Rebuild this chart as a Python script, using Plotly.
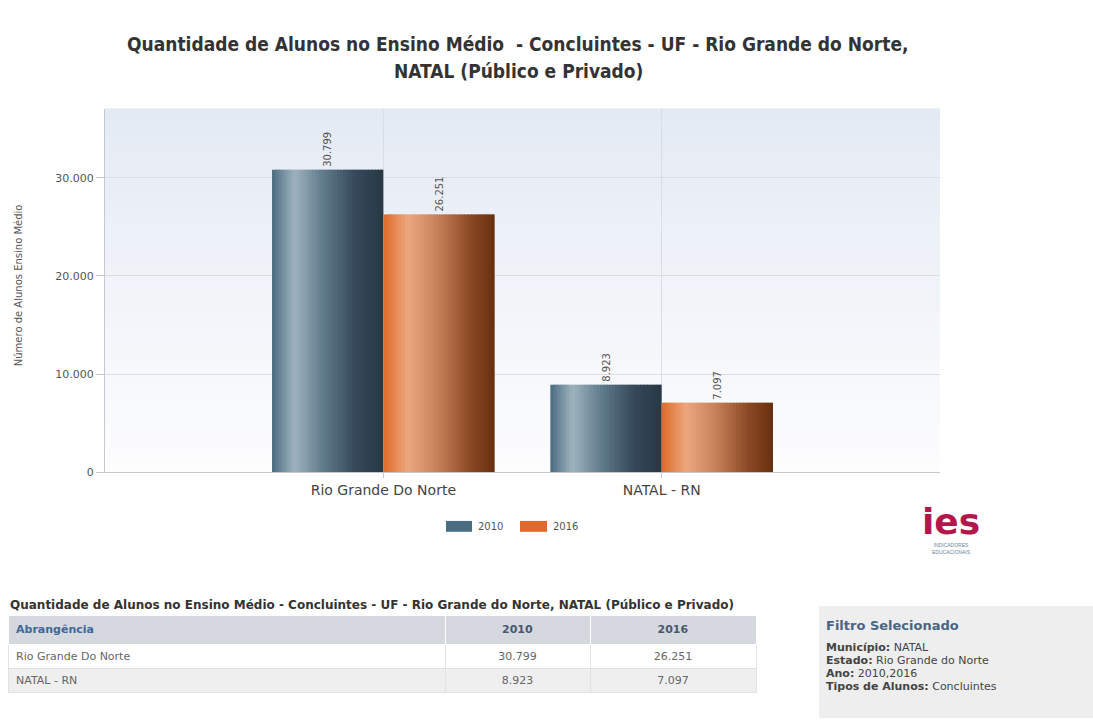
import plotly.graph_objects as go

# ---- data -------------------------------------------------------------
categories = ["Rio Grande Do Norte", "NATAL - RN"]
years = ["2010", "2016"]
values_2010 = [30799, 8923]
values_2016 = [26251, 7097]
series_values = [values_2010, values_2016]

y_ticks = [0, 10000, 20000, 30000]

title_line1 = "Quantidade de Alunos no Ensino Médio  - Concluintes - UF - Rio Grande do Norte,"
title_line2 = "NATAL (Público e Privado)"
y_title = "Número de Alunos Ensino Médio"
table_title = ("Quantidade de Alunos no Ensino Médio - Concluintes - UF - "
               "Rio Grande do Norte, NATAL (Público e Privado)")
table_header = ["Abrangência", "2010", "2016"]
filter_title = "Filtro Selecionado"
filter_items = [("Município:", "NATAL"),
                ("Estado:", "Rio Grande do Norte"),
                ("Ano:", "2010,2016"),
                ("Tipos de Alunos:", "Concluintes")]

# ---- style ------------------------------------------------------------
W_PX, H_PX = 1093, 725
FONT = "DejaVu Sans"
swatch_colors = ["#4b6d84", "#dd6a2b"]
# horizontal "cylinder" shading for each series (position, colour)
shading = [
    [(0.0, "#4a6b80"), (0.2, "#9fb3be"), (0.45, "#627d8d"), (0.75, "#35495a"), (1.0, "#283844")],
    [(0.0, "#df6a28"), (0.22, "#eda77f"), (0.48, "#c8825a"), (0.76, "#8e4c27"), (1.0, "#672f10")],
]


def px(x):
    return x / W_PX


def py(y):
    return 1 - y / H_PX


def hex_to_rgb(h):
    h = h.lstrip("#")
    return tuple(int(h[i:i + 2], 16) for i in (0, 2, 4))


def interp(stops, t):
    for (p0, c0), (p1, c1) in zip(stops, stops[1:]):
        if p0 <= t <= p1:
            f = (t - p0) / (p1 - p0)
            a, b = hex_to_rgb(c0), hex_to_rgb(c1)
            r = [round(a[i] + (b[i] - a[i]) * f) for i in range(3)]
            return "rgb(%d,%d,%d)" % tuple(r)
    return stops[-1][1]


fig = go.Figure()

# ---- bars: each bar is built from thin vertical strips for the shading
BAR_W = 0.4
N_STRIPS = 36
for s, vals in enumerate(series_values):
    start = -BAR_W + BAR_W * s
    step = BAR_W / N_STRIPS
    for k in range(N_STRIPS):
        off = start + k * step
        w = min(step * 1.7, start + BAR_W - off)
        fig.add_trace(go.Bar(
            x=categories, y=vals, offset=off, width=w,
            marker=dict(color=interp(shading[s], (k + 0.5) / N_STRIPS), line_width=0),
            showlegend=False, hoverinfo="skip",
        ))
    # value labels above each bar
    fig.add_trace(go.Bar(
        x=categories, y=vals, offset=start, width=BAR_W, name=years[s],
        marker=dict(color="rgba(0,0,0,0)", line_width=0),
        texttemplate="%{y:,d}", textposition="outside", textangle=-90,
        textfont=dict(family=FONT, size=10, color="#555555"),
        cliponaxis=False, showlegend=False,
    ))

# ---- plot background gradient (light blue at top fading to white)
N_BANDS = 30
top_c, bot_c = "#e4eaf4", "#fdfdfe"
for i in range(N_BANDS):
    fig.add_shape(type="rect", xref="x domain", yref="y domain",
                  x0=0, x1=1, y0=i / N_BANDS, y1=(i + 1) / N_BANDS + 0.002,
                  fillcolor=interp([(0, bot_c), (1, top_c)], (i + 0.5) / N_BANDS),
                  line_width=0, layer="below")

# ---- manual legend
legend_items = [(446, 472, 476, years[0]), (520, 547, 551, years[1])]
for (x0, x1, xt, label), col in zip(legend_items, swatch_colors):
    fig.add_shape(type="rect", xref="paper", yref="paper",
                  x0=px(x0), x1=px(x1), y0=py(537), y1=py(526),
                  fillcolor=col, line_width=0)
    fig.add_annotation(x=px(xt), y=py(531.5), xref="paper", yref="paper",
                       text=label, showarrow=False, xanchor="left", yanchor="middle",
                       font=dict(family=FONT, size=10, color="#555555"))

# ---- titles
for txt, yy in ((title_line1, 44), (title_line2, 72)):
    fig.add_annotation(x=px(518), y=py(yy), xref="paper", yref="paper", text="<b>%s</b>" % txt,
                       showarrow=False, xanchor="center", yanchor="middle",
                       font=dict(family="DejaVu Sans Condensed", size=19, color="#333333"))
fig.add_annotation(x=px(18), y=py(288), xref="paper", yref="paper", text=y_title,
                   showarrow=False, textangle=-90, xanchor="center", yanchor="middle",
                   font=dict(family=FONT, size=10, color="#555555"))

# ---- logo
fig.add_annotation(x=px(951), y=py(527), xref="paper", yref="paper", text="<b>ies</b>",
                   showarrow=False, xanchor="center", yanchor="middle",
                   font=dict(family="DejaVu Sans", size=36, color="#b3164b"))
fig.add_annotation(x=px(951), y=py(554), xref="paper", yref="paper",
                   text="INDICADORES<br>EDUCACIONAIS",
                   showarrow=False, xanchor="center", yanchor="middle",
                   font=dict(family="Liberation Sans", size=5, color="#6a86a2"))

# ---- data table
fig.add_annotation(x=px(8), y=py(611), xref="paper", yref="paper", text="<b>%s</b>" % table_title,
                   showarrow=False, xanchor="left", yanchor="middle",
                   font=dict(family=FONT, size=12, color="#333333"))
fmt = lambda v: f"{v:,}".replace(",", ".")
fig.add_trace(go.Table(
    domain=dict(x=[px(8), px(756)], y=[0, py(621)]),
    columnwidth=[437, 145, 166],
    header=dict(
        values=["<b>%s</b>" % h for h in table_header],
        fill_color="#d5d8de", line=dict(color="#ffffff", width=1),
        align=["left", "center", "center"], height=25,
        font=dict(family=FONT, size=11, color=["#3f6796", "#4a5870", "#4a5870"]),
    ),
    cells=dict(
        values=[categories, [fmt(v) for v in values_2010], [fmt(v) for v in values_2016]],
        fill_color=[["#ffffff", "#efefef"]] * 3,
        line=dict(color="#e2e2e2", width=1),
        align=["left", "center", "center"], height=24,
        font=dict(family=FONT, size=11, color="#666666"),
    ),
))

# ---- filter box
fig.add_shape(type="rect", xref="paper", yref="paper", x0=px(819), x1=1, y0=0, y1=py(612),
              fillcolor="#eeeeee", line_width=0, layer="below")
fig.add_annotation(x=px(824), y=py(632), xref="paper", yref="paper", text="<b>%s</b>" % filter_title,
                   showarrow=False, xanchor="left", yanchor="middle",
                   font=dict(family=FONT, size=13, color="#4a6584"))
for i, (lab, val) in enumerate(filter_items):
    fig.add_annotation(x=px(824), y=py(654 + 13 * i), xref="paper", yref="paper",
                       text="<b>%s</b> %s" % (lab, val),
                       showarrow=False, xanchor="left", yanchor="middle",
                       font=dict(family=FONT, size=11, color="#444444"))

# ---- axes & layout
fig.update_layout(
    width=W_PX, height=H_PX,
    margin=dict(l=0, r=0, t=0, b=0),
    paper_bgcolor="#ffffff", plot_bgcolor="rgba(0,0,0,0)",
    barmode="overlay", separators=",.",
    showlegend=False,
    xaxis=dict(
        domain=[px(105), px(940)], type="category", categoryorder="array",
        categoryarray=categories, range=[-1, 2],
        showgrid=True, gridcolor="#d9dee6", gridwidth=1,
        showline=True, linecolor="#c4c8cf", linewidth=1,
        ticks="outside", ticklen=5, tickcolor="#c4c8cf",
        tickfont=dict(family=FONT, size=14, color="#444444"),
        fixedrange=True,
    ),
    yaxis=dict(
        domain=[py(477), py(110)], range=[0, 37000],
        tickvals=y_ticks, tickformat=",d",
        showgrid=True, gridcolor="#d9dee6", gridwidth=1, zeroline=False,
        showline=True, linecolor="#c4c8cf", linewidth=1,
        ticks="outside", ticklen=8, tickcolor="#c4c8cf",
        tickfont=dict(family=FONT, size=11, color="#555555"),
        fixedrange=True,
    ),
)

fig.write_html("out.html")
